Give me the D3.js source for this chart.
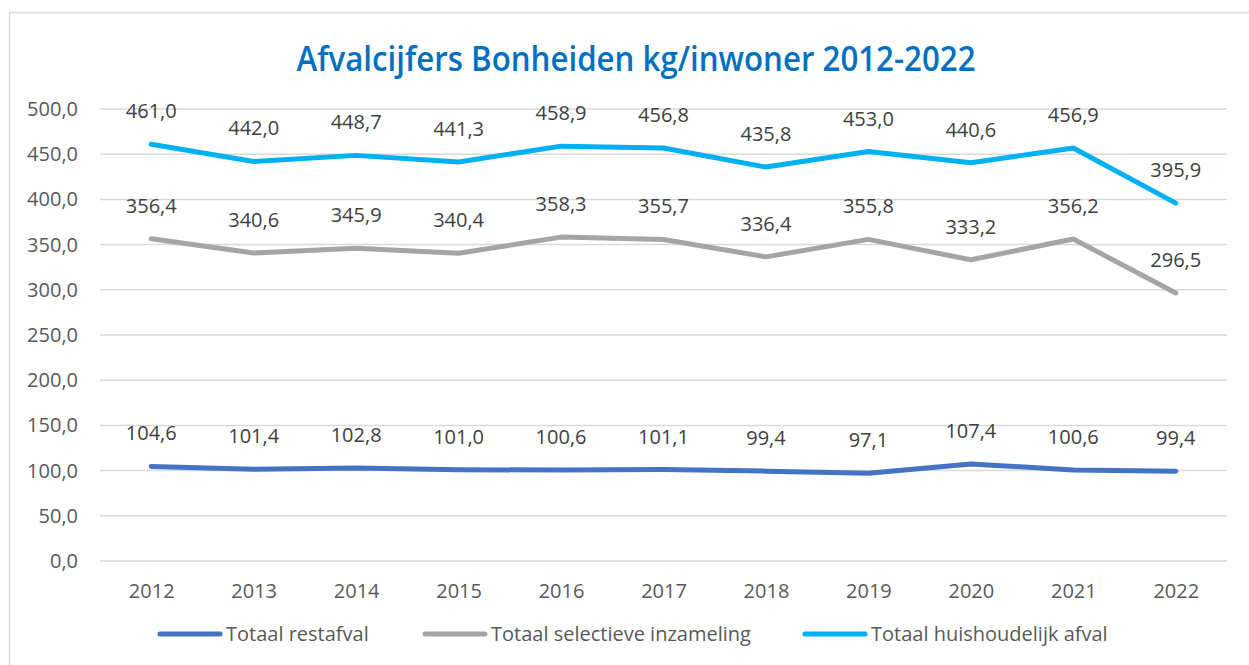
<!DOCTYPE html>
<html>
<head>
<meta charset="utf-8">
<script src="https://cdn.jsdelivr.net/npm/d3@7"></script>
<style>
  body { margin: 0; background: #fff; }
  text { font-family: "Open Sans", "Noto Sans", sans-serif; }
</style>
</head>
<body>
<div id="chart"></div>
<script>
// data
var years = ["2012", "2013", "2014", "2015", "2016", "2017", "2018", "2019", "2020", "2021", "2022"];
var restafval = [104.6, 101.4, 102.8, 101.0, 100.6, 101.1, 99.4, 97.1, 107.4, 100.6, 99.4];
var selectieve = [356.4, 340.6, 345.9, 340.4, 358.3, 355.7, 336.4, 355.8, 333.2, 356.2, 296.5];
var huishoudelijk = [461.0, 442.0, 448.7, 441.3, 458.9, 456.8, 435.8, 453.0, 440.6, 456.9, 395.9];
var seriesNames = ["Totaal restafval", "Totaal selectieve inzameling", "Totaal huishoudelijk afval"];
var yTicks = [0, 50, 100, 150, 200, 250, 300, 350, 400, 450, 500];

var series = [
  { name: seriesNames[0], values: restafval, color: "#4472C4" },
  { name: seriesNames[1], values: selectieve, color: "#A5A5A5" },
  { name: seriesNames[2], values: huishoudelijk, color: "#00B0F0" }
];

var svgWidth = 1249;
var svgHeight = 665;

var margin = { top: 109, right: 22, bottom: 104, left: 100 };
var width = svgWidth - margin.left - margin.right;
var height = svgHeight - margin.top - margin.bottom;

var svg = d3.select("#chart")
  .append("svg")
  .attr("width", svgWidth)
  .attr("height", svgHeight);

// chart border
svg.append("rect")
  .attr("x", 9.5)
  .attr("y", 12.5)
  .attr("width", 1260)
  .attr("height", 700)
  .attr("fill", "none")
  .attr("stroke", "#D9D9D9")
  .attr("stroke-width", 1.5);

// title
svg.append("text")
  .attr("x", 636)
  .attr("y", 71)
  .attr("text-anchor", "middle")
  .attr("font-size", "34px")
  .attr("font-weight", "600")
  .attr("fill", "#0070C0")
  .attr("textLength", 679)
  .attr("lengthAdjust", "spacingAndGlyphs")
  .text("Afvalcijfers Bonheiden kg/inwoner 2012-2022");

var chartGroup = svg.append("g")
  .attr("transform", `translate(${margin.left}, ${margin.top})`);

var xScale = d3.scalePoint()
  .domain(years)
  .range([0, width])
  .padding(0.5);

var yScale = d3.scaleLinear()
  .domain([0, 500])
  .range([height, 0]);

// gridlines
chartGroup.selectAll(".grid")
  .data(yTicks)
  .enter()
  .append("line")
  .attr("x1", 0)
  .attr("x2", width)
  .attr("y1", d => yScale(d))
  .attr("y2", d => yScale(d))
  .attr("stroke", "#D9D9D9")
  .attr("stroke-width", 1.5);

var fmt = d => d.toFixed(1).replace(".", ",");

// y axis labels
var leftAxis = d3.axisLeft(yScale).tickValues(yTicks).tickFormat(fmt).tickSize(0).tickPadding(22);
var yAxis = chartGroup.append("g").call(leftAxis);
yAxis.select(".domain").remove();
yAxis.selectAll("text")
  .attr("font-size", "20px")
  .attr("font-family", "Open Sans")
  .attr("fill", "#595959");

// x axis labels
var bottomAxis = d3.axisBottom(xScale).tickSize(0).tickPadding(23);
var xAxis = chartGroup.append("g")
  .attr("transform", `translate(0, ${height})`)
  .call(bottomAxis);
xAxis.select(".domain").remove();
xAxis.selectAll("text")
  .attr("font-size", "20px")
  .attr("font-family", "Open Sans")
  .attr("fill", "#595959");

var line = d3.line()
  .x((d, i) => xScale(years[i]))
  .y(d => yScale(d));

// lines
chartGroup.selectAll(".series")
  .data(series)
  .enter()
  .append("path")
  .attr("d", d => line(d.values))
  .attr("fill", "none")
  .attr("stroke", d => d.color)
  .attr("stroke-width", 5)
  .attr("stroke-linecap", "round")
  .attr("stroke-linejoin", "round");

// value labels
series.forEach(function(s) {
  chartGroup.selectAll(null)
    .data(s.values)
    .enter()
    .append("text")
    .attr("x", (d, i) => xScale(years[i]))
    .attr("y", d => yScale(d) - 33)
    .attr("dy", "0.35em")
    .attr("text-anchor", "middle")
    .attr("font-size", "20px")
    .attr("fill", "#404040")
    .text(fmt);
});

// legend
var legendX = [160, 425, 805];
var legend = svg.selectAll(".legend")
  .data(series)
  .enter()
  .append("g")
  .attr("transform", (d, i) => `translate(${legendX[i]}, 634)`);

legend.append("line")
  .attr("x1", 0)
  .attr("x2", 60)
  .attr("stroke", d => d.color)
  .attr("stroke-width", 5)
  .attr("stroke-linecap", "round");

legend.append("text")
  .attr("x", 66)
  .attr("dy", "0.35em")
  .attr("font-size", "20px")
  .attr("fill", "#595959")
  .text(d => d.name);
</script>
</body>
</html>
